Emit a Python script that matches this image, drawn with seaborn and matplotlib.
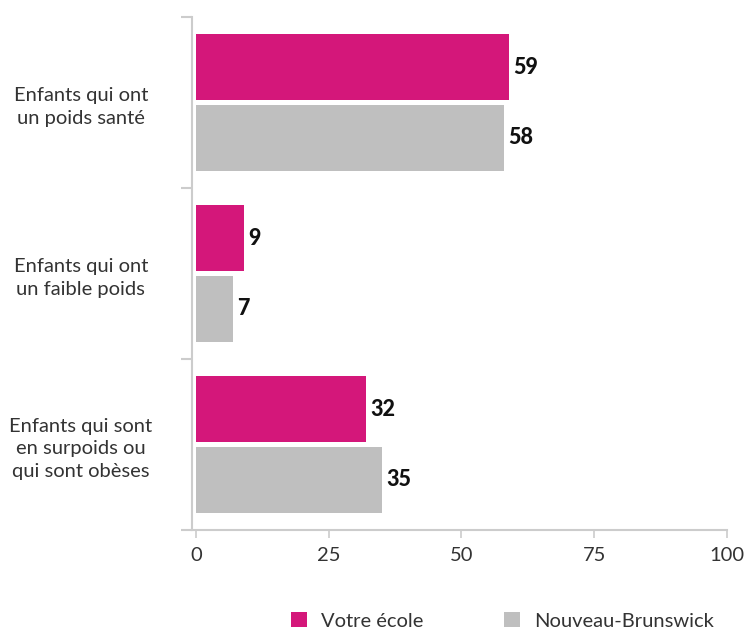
import pandas as pd
import matplotlib
matplotlib.use("Agg")
import matplotlib.pyplot as plt
import seaborn as sns
from matplotlib.patches import Patch

# Data
categories = ["Enfants qui ont\nun poids santé",
              "Enfants qui ont\nun faible poids",
              "Enfants qui sont\nen surpoids ou\nqui sont obèses"]
votre_ecole = [59, 9, 32]
nouveau_brunswick = [58, 7, 35]
series_names = ["Votre école", "Nouveau-Brunswick"]
x_ticks = [0, 25, 50, 75, 100]

colors = ["#D4177A", "#BFBFBF"]
text_color = "#333333"

df = pd.DataFrame({
    "categorie": categories * 2,
    "serie": [series_names[0]] * 3 + [series_names[1]] * 3,
    "valeur": votre_ecole + nouveau_brunswick,
})

sns.set_style("white")
plt.rcParams["font.family"] = ["Lato", "DejaVu Sans"]

fig = plt.figure(figsize=(7.44, 6.32), dpi=100)
ax = fig.add_axes([0.258, 0.1614, 0.719, 0.8117])

sns.barplot(data=df, y="categorie", x="valeur", hue="serie", order=categories,
            hue_order=series_names, palette=colors, orient="h",
            width=0.83, gap=0.07, saturation=1, linewidth=0, legend=False, ax=ax)

# Value labels
for container in ax.containers:
    ax.bar_label(container, fmt="%d", padding=3, fontsize=15.5, fontweight="black",
                 color="#111111")

ax.set_xlim(-0.75, 100)
ax.set_ylim(2.5, -0.5)
ax.set_xticks(x_ticks)
ax.set_xlabel("")
ax.set_ylabel("")

# Axis styling
for side in ["top", "right"]:
    ax.spines[side].set_visible(False)
for side in ["left", "bottom"]:
    ax.spines[side].set_color("#CCCCCC")
    ax.spines[side].set_linewidth(1.5)

ax.tick_params(axis="x", which="major", length=6, width=1.2, color="#CCCCCC",
               labelsize=14.5, labelcolor=text_color, pad=6, bottom=True)
ax.tick_params(axis="y", which="major", length=0, labelsize=14.5,
               labelcolor=text_color, pad=80)
for lbl in ax.get_yticklabels():
    lbl.set_horizontalalignment("center")
    lbl.set_multialignment("center")
    lbl.set_linespacing(1.4)
ax.set_yticks([-0.5, 0.5, 1.5, 2.5], minor=True)
ax.tick_params(axis="y", which="minor", length=8, width=1.5, color="#CCCCCC", left=True)

# Legend
handles = [Patch(facecolor=c, edgecolor="none") for c in colors]
fig.legend(handles, series_names, loc="lower center", bbox_to_anchor=(0.675, -0.025),
           ncol=2, frameon=False, fontsize=14.5, handlelength=0.8, handleheight=0.8,
           columnspacing=4.0, handletextpad=0.7, labelcolor=text_color)

fig.savefig("out.png", dpi=100)
